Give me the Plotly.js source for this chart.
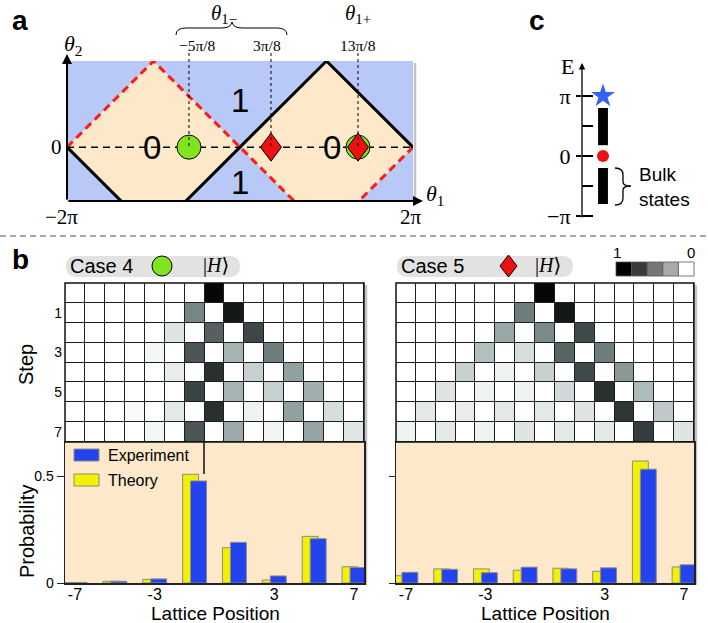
<!DOCTYPE html>
<html><head><meta charset="utf-8">
<script src="https://cdn.plot.ly/plotly-3.0.1.min.js"></script>
<style>html,body{margin:0;padding:0;background:#fff}#chart{width:708px;height:623px}</style>
</head><body><div id="chart"></div>
<script>
// ================= DATA =================
// panel b : lattice positions with bars, probabilities at final step
const latticePositions = [-7, -5, -3, -1, 1, 3, 5, 7];
const case4Theory     = [0.002, 0.008, 0.017, 0.508, 0.165, 0.014, 0.218, 0.076];
const case4Experiment = [0.002, 0.008, 0.019, 0.477, 0.190, 0.033, 0.207, 0.072];
const case5Theory     = [0.034, 0.066, 0.066, 0.060, 0.069, 0.055, 0.570, 0.075];
const case5Experiment = [0.050, 0.064, 0.048, 0.074, 0.066, 0.071, 0.532, 0.085];
const xTickVals = [-7, -3, 3, 7];
const xTickText = ['-7', '-3', '3', '7'];

// heat maps: rows = steps 0..7, columns = positions -7..7
const heatColumns = [-7,-6,-5,-4,-3,-2,-1,0,1,2,3,4,5,6,7];
const steps = [0,1,2,3,4,5,6,7];
const stepTickVals = [1, 3, 5, 7];
const case4Heat = [
  [0,0,0,0,0,0,0,0.98,0,0,0,0,0,0,0],
  [0,0,0,0,0,0,0.57,0,0.93,0,0,0,0,0,0],
  [0,0,0,0,0,0.14,0,0.70,0,0.79,0,0,0,0,0],
  [0,0,0,0,0.05,0,0.74,0,0.37,0,0.60,0,0,0,0],
  [0,0,0,0,0,0.10,0,0.86,0,0.24,0,0.46,0,0,0],
  [0,0,0,0,0,0,0.80,0,0.37,0,0.24,0,0.40,0,0],
  [0,0,0,0.03,0,0.12,0,0.86,0,0.07,0,0.46,0,0.18,0],
  [0,0,0,0,0.05,0,0.74,0,0.42,0,0.06,0,0.44,0,0.13]
];
const case5Heat = [
  [0,0,0,0,0,0,0,0.98,0,0,0,0,0,0,0],
  [0,0,0,0,0,0,0.60,0,0.93,0,0,0,0,0,0],
  [0,0,0,0,0,0.43,0,0.55,0,0.78,0,0,0,0,0],
  [0,0,0,0,0.32,0,0.18,0,0.69,0,0.60,0,0,0,0],
  [0,0,0,0.24,0,0.07,0,0.24,0,0.78,0,0.49,0,0,0],
  [0,0,0.14,0,0.07,0,0.07,0,0.20,0,0.86,0,0.34,0,0],
  [0,0.12,0,0.10,0,0.12,0,0.12,0,0.14,0,0.84,0,0.28,0],
  [0.07,0,0.12,0,0.07,0,0.14,0,0.12,0,0.12,0,0.82,0,0.14]
];
const legendScaleColors = ['#000000','#3a3a3a','#777777','#aaaaaa','#ffffff'];

// panel a : phase diagram (angles in units of pi)
const theta1Zigzag = [-2, -1, 0, 1, 2];
const redBoundaryTheta2 = [0, 1, 0, -1, 0];
const blackBoundaryTheta2 = [0, -1, 0, 1, 0];
const trivialCentersTheta1 = [-1, 1];
const circleTheta1 = [-0.59, 1.364];
const diamondTheta1 = [0.358, 1.364];
const markerLabelTheta1 = [-0.59, 0.358, 1.364];
const markerLabels = ['\u22125\u03c0/8', '3\u03c0/8', '13\u03c0/8'];

// panel c : quasi-energy spectrum (units of pi)
const edgeStarEnergy = [1];
const edgeDotEnergy = [0];
const bulkBands = [[0.18, 0.80], [-0.80, -0.20]];

// ================= HELPERS =================
const W = 708, H = 623;
const px = v => v / W;
const py = v => 1 - v / H;
const SANS = 'Liberation Sans, Arial, Helvetica, sans-serif';
const SERIF = 'Liberation Serif, DejaVu Serif, Times New Roman, serif';
const ann = (x, y, text, size, extra) => Object.assign({
  xref: 'paper', yref: 'paper', x: px(x), y: py(y), text: text, showarrow: false,
  xanchor: 'center', yanchor: 'middle', font: {size: size, family: SANS, color: '#000'}
}, extra || {});
const P = (x, y) => px(x).toFixed(5) + ',' + py(y).toFixed(5);

const YELLOW = '#f2f200', BLUE = '#2343ee', ORANGE = '#fde8ca', LIGHTBLUE = '#b9c9f7';
const heatScale = [[0,'#ffffff'],[0.2,'#d0d9d9'],[0.4,'#a0aeae'],[0.6,'#6e7e7e'],[0.8,'#3a4444'],[1,'#000000']];

// ================= TRACES =================
const traces = [];
// heatmaps
traces.push({type:'heatmap', x: heatColumns, y: steps, z: case4Heat, colorscale: heatScale, zmin:0, zmax:1,
  showscale:false, xgap:1, ygap:1, xaxis:'x', yaxis:'y', hoverinfo:'skip'});
traces.push({type:'heatmap', x: heatColumns, y: steps, z: case5Heat, colorscale: heatScale, zmin:0, zmax:1,
  showscale:false, xgap:1, ygap:1, xaxis:'x3', yaxis:'y3', hoverinfo:'skip'});
// bars
const barLine = {color:'#8a8a8a', width:1};
function barPair(theory, exper, xa, ya){
  traces.push({type:'bar', x: latticePositions, y: theory, width:0.8, offset:-0.6,
    marker:{color:YELLOW, line:barLine}, xaxis:xa, yaxis:ya, hoverinfo:'skip'});
  traces.push({type:'bar', x: latticePositions, y: exper, width:0.8, offset:-0.2,
    marker:{color:BLUE, line:barLine}, xaxis:xa, yaxis:ya, hoverinfo:'skip'});
}
barPair(case4Theory, case4Experiment, 'x2', 'y2');
barPair(case5Theory, case5Experiment, 'x4', 'y4');

// panel a: trivial (0) diamonds
trivialCentersTheta1.forEach(c => {
  traces.push({type:'scatter', mode:'lines', x:[c-1, c, c+1, c, c-1], y:[0, 1, 0, -1, 0],
    fill:'toself', fillcolor:ORANGE, line:{width:0}, xaxis:'x5', yaxis:'y5', hoverinfo:'skip'});
});
traces.push({type:'scatter', mode:'lines', x: theta1Zigzag, y: redBoundaryTheta2,
  line:{color:'#ff1a1a', width:3, dash:'8px,5px'}, xaxis:'x5', yaxis:'y5', hoverinfo:'skip'});
traces.push({type:'scatter', mode:'lines', x: theta1Zigzag, y: blackBoundaryTheta2,
  line:{color:'#000', width:3}, xaxis:'x5', yaxis:'y5', hoverinfo:'skip'});
traces.push({type:'scatter', mode:'lines', x:[theta1Zigzag[0], theta1Zigzag[theta1Zigzag.length-1]], y:[0,0],
  line:{color:'#000', width:1.5, dash:'7px,5px'}, xaxis:'x5', yaxis:'y5', hoverinfo:'skip'});
traces.push({type:'scatter', mode:'markers', x: circleTheta1, y: circleTheta1.map(() => 0),
  marker:{symbol:'circle', size:24, color:'#80e51f', line:{color:'#000', width:1}},
  xaxis:'x5', yaxis:'y5', hoverinfo:'skip', cliponaxis:false});
const dHalfW = 10.5 / 86.5, dHalfH = 14 / 86.15;
diamondTheta1.forEach(t => {
  traces.push({type:'scatter', mode:'lines', x:[t-dHalfW, t, t+dHalfW, t, t-dHalfW], y:[0, dHalfH, 0, -dHalfH, 0],
    fill:'toself', fillcolor:'#ee1111', line:{color:'#000', width:1}, xaxis:'x5', yaxis:'y5', hoverinfo:'skip'});
});

// panel c
traces.push({type:'bar', x: bulkBands.map(() => 0), base: bulkBands.map(b => b[0]), y: bulkBands.map(b => b[1]-b[0]),
  width:0.47, marker:{color:'#000'}, xaxis:'x6', yaxis:'y6', hoverinfo:'skip'});
traces.push({type:'scatter', mode:'markers', x: edgeStarEnergy.map(() => 0), y: edgeStarEnergy,
  marker:{symbol:'star', size:18, color:'#3462f5'}, xaxis:'x6', yaxis:'y6', hoverinfo:'skip', cliponaxis:false});
traces.push({type:'scatter', mode:'markers', x: edgeDotEnergy.map(() => 0), y: edgeDotEnergy,
  marker:{symbol:'circle', size:12, color:'#ee1111'}, xaxis:'x6', yaxis:'y6', hoverinfo:'skip'});
traces.push({type:'scatter', mode:'markers', x:[0], y:[0], marker:{opacity:0}, xaxis:'x6', yaxis:'y7', hoverinfo:'skip'});

// ================= LAYOUT =================
const noAxis = {showgrid:false, zeroline:false, showline:false, ticks:'', showticklabels:false};
const bLeft = [px(65), px(364)], bRight = [px(396), px(694)];
const heatY = [py(442), py(283)], barY = [py(583), py(442)];
const layout = {
  width: W, height: H, margin:{l:0, r:0, t:0, b:0},
  paper_bgcolor:'#ffffff', plot_bgcolor:'rgba(0,0,0,0)', showlegend:false, barmode:'overlay',
  font:{family:SANS, color:'#000'},
  xaxis: Object.assign({}, noAxis, {domain:bLeft, range:[-7.5,7.5], anchor:'y'}),
  yaxis: Object.assign({}, noAxis, {domain:heatY, range:[7.5,-0.5], anchor:'x', showticklabels:true,
    tickvals:stepTickVals, ticktext:stepTickVals.map(String), tickfont:{size:14}, ticklabelstandoff:2}),
  xaxis3: Object.assign({}, noAxis, {domain:bRight, range:[-7.5,7.5], anchor:'y3'}),
  yaxis3: Object.assign({}, noAxis, {domain:heatY, range:[7.5,-0.5], anchor:'x3'}),
  xaxis2: {domain:bLeft, range:[-7.5,7.5], anchor:'y2', tickvals:xTickVals, ticktext:xTickText, ticks:'',
    tickfont:{size:16}, ticklabelstandoff:-4, showline:true, mirror:true, linecolor:'#222', linewidth:1.5, showgrid:false, zeroline:false},
  yaxis2: {domain:barY, range:[0,0.659], anchor:'x2', tickvals:[0,0.5], ticktext:['0','0.5'], ticks:'outside',
    ticklen:7, tickcolor:'#222', tickfont:{size:14}, showline:true, mirror:true, linecolor:'#222', linewidth:1.5,
    showgrid:false, zeroline:false},
  xaxis4: {domain:bRight, range:[-7.5,7.5], anchor:'y4', tickvals:xTickVals, ticktext:xTickText, ticks:'',
    tickfont:{size:16}, ticklabelstandoff:-4, showline:true, mirror:true, linecolor:'#222', linewidth:1.5, showgrid:false, zeroline:false},
  yaxis4: {domain:barY, range:[0,0.659], anchor:'x4', tickvals:[0,0.5], ticks:'outside', ticklen:6, tickcolor:'#222',
    showticklabels:false, showline:true, mirror:true, linecolor:'#222', linewidth:1.5, showgrid:false, zeroline:false},
  xaxis5: Object.assign({}, noAxis, {domain:[px(67), px(413)], range:[-2,2], anchor:'y5'}),
  yaxis5: Object.assign({}, noAxis, {domain:[py(201), py(61)], range:[-0.625,1], anchor:'x5'}),
  xaxis6: Object.assign({}, noAxis, {domain:[px(582), px(705)], range:[-1, 4.857], anchor:'y6'}),
  yaxis6: {domain:[py(218), py(72)], range:[-1.033, 1.4], anchor:'x6', tickvals:[-1,0,1],
    ticktext:['\u2212\u03c0','0','\u03c0'], ticks:'outside', ticklen:5, tickwidth:1.3, tickcolor:'#000',
    tickfont:{size:22, family:SERIF}, showline:false, showgrid:false, zeroline:false, ticklabelstandoff:1},
  yaxis7: {overlaying:'y6', anchor:'x6', range:[-1.033, 1.4], tickvals:[-1,-0.5,0,0.5,1], ticks:'inside',
    ticklen:11, tickwidth:1.3, tickcolor:'#000', showticklabels:false, showline:false, showgrid:false, zeroline:false},
  shapes: [], annotations: []
};
const S = layout.shapes, A = layout.annotations;

// backgrounds
S.push({type:'rect', xref:'x domain', yref:'y domain', x0:0, x1:1, y0:0, y1:1, fillcolor:'#1e1e1e', line:{width:0}, layer:'below'});
S.push({type:'rect', xref:'x3 domain', yref:'y3 domain', x0:0, x1:1, y0:0, y1:1, fillcolor:'#1e1e1e', line:{width:0}, layer:'below'});
S.push({type:'rect', xref:'x2 domain', yref:'y2 domain', x0:0, x1:1, y0:0, y1:1, fillcolor:ORANGE, line:{width:0}, layer:'below'});
S.push({type:'rect', xref:'x4 domain', yref:'y4 domain', x0:0, x1:1, y0:0, y1:1, fillcolor:ORANGE, line:{width:0}, layer:'below'});
S.push({type:'rect', xref:'x5 domain', yref:'y5 domain', x0:0, x1:1, y0:0, y1:1, fillcolor:LIGHTBLUE, line:{width:0}, layer:'below'});
// soft shadows
[[364,285,583],[694,285,583]].forEach(s => S.push({type:'line', xref:'paper', yref:'paper', x0:px(s[0]+2), x1:px(s[0]+2), y0:py(s[1]), y1:py(s[2]+2), line:{color:'#c4c4c4', width:2.5}, layer:'below'}));
S.push({type:'line', xref:'paper', yref:'paper', x0:px(415), x1:px(415), y0:py(63), y1:py(200), line:{color:'#c4c4c4', width:2.5}, layer:'below'});
// heat map borders
S.push({type:'rect', xref:'x domain', yref:'y domain', x0:0, x1:1, y0:0, y1:1, line:{color:'#111', width:1.5}});
S.push({type:'rect', xref:'x3 domain', yref:'y3 domain', x0:0, x1:1, y0:0, y1:1, line:{color:'#111', width:1.5}});
// vertical line in left bar chart
S.push({type:'line', xref:'paper', yref:'paper', x0:px(204), x1:px(204), y0:py(442), y1:py(474), line:{color:'#111', width:1.5}});
// separator
S.push({type:'line', xref:'paper', yref:'paper', x0:0, x1:1, y0:py(236), y1:py(236), line:{color:'#a8a8a8', width:2, dash:'6px,4px'}});

// case pills
function pill(x0, x1, y0, y1){
  const r = (y1 - y0) / 2;
  return {type:'path', xref:'paper', yref:'paper', fillcolor:'#e2e2e2', line:{width:0}, layer:'below',
    path:'M'+P(x0+r,y0)+' L'+P(x1-r,y0)+' Q'+P(x1,y0)+' '+P(x1,y0+r)+' Q'+P(x1,y1)+' '+P(x1-r,y1)+
         ' L'+P(x0+r,y1)+' Q'+P(x0,y1)+' '+P(x0,y0+r)+' Q'+P(x0,y0)+' '+P(x0+r,y0)+' Z'};
}
S.push(pill(66, 240, 256, 277));
S.push(pill(397, 573, 256, 277));
S.push({type:'circle', xref:'paper', yref:'paper', x0:px(152), x1:px(172), y0:py(276), y1:py(256), fillcolor:'#80e51f', line:{color:'#000', width:1}});
S.push({type:'path', xref:'paper', yref:'paper', fillcolor:'#ee1111', line:{color:'#000', width:1},
  path:'M'+P(500,266)+' L'+P(508.5,255)+' L'+P(517,266)+' L'+P(508.5,277)+' Z'});

// grey-scale legend
legendScaleColors.forEach((c, i) => {
  const w = 78 / legendScaleColors.length;
  S.push({type:'rect', xref:'paper', yref:'paper', x0:px(616+i*w), x1:px(616+(i+1)*w), y0:py(276), y1:py(262),
    fillcolor:c, line:{color:'#555', width:0.8}});
});

// bar legend swatches
S.push({type:'rect', xref:'paper', yref:'paper', x0:px(74), x1:px(99), y0:py(461), y1:py(449), fillcolor:BLUE, line:{color:'#8a8a8a', width:1}});
S.push({type:'rect', xref:'paper', yref:'paper', x0:px(74), x1:px(99), y0:py(486), y1:py(474), fillcolor:YELLOW, line:{color:'#8a8a8a', width:1}});

// braces
S.push({type:'path', xref:'paper', yref:'paper', line:{color:'#000', width:1},
  path:'M'+P(176,35)+' Q'+P(176,28)+' '+P(186,28)+' L'+P(222,28)+' Q'+P(231,28)+' '+P(232,22)+
       ' Q'+P(233,28)+' '+P(242,28)+' L'+P(277,28)+' Q'+P(287,28)+' '+P(287,35)});
S.push({type:'path', xref:'paper', yref:'paper', line:{color:'#000', width:1.3},
  path:'M'+P(615,168)+' Q'+P(623,168)+' '+P(623,175)+' L'+P(623,182)+' Q'+P(623,186)+' '+P(631,186)+
       ' Q'+P(623,186)+' '+P(623,190)+' L'+P(623,198)+' Q'+P(623,205)+' '+P(615,205)});

// dotted lines from labels to markers (panel a)
markerLabelTheta1.forEach(t => S.push({type:'line', xref:'x5', yref:'paper', x0:t, x1:t, y0:py(53), y1:py(147),
  line:{color:'#000', width:1, dash:'dot'}}));

// ---------- annotations ----------
const arrow = (x, y, ax, ay, w) => ({xref:'paper', yref:'paper', x:px(x), y:py(y), ax:ax, ay:ay, text:'',
  showarrow:true, arrowhead:2, arrowsize:1, arrowwidth:w, arrowcolor:'#000'});
A.push(arrow(67, 54, 0, 147, 2));
A.push(arrow(423, 201, -356, 0, 2));
A.push(arrow(582, 63, 0, 156, 1.3));

// panel letters
A.push(ann(20, 21, '<b>a</b>', 28));
A.push(ann(20, 259, '<b>b</b>', 28));
A.push(ann(537, 21, '<b>c</b>', 28));

// panel a texts
A.push(ann(73, 45, '<i>\u03b8</i><sub>2</sub>', 22, {font:{size:22, family:SERIF, color:'#000'}}));
A.push(ann(57, 147, '0', 21, {font:{size:21, family:SERIF, color:'#000'}}));
A.push(ann(61, 217, '\u22122\u03c0', 21, {font:{size:21, family:SERIF, color:'#000'}}));
A.push(ann(411, 217, '2\u03c0', 21, {font:{size:21, family:SERIF, color:'#000'}}));
A.push(ann(435, 195, '<i>\u03b8</i><sub>1</sub>', 22, {font:{size:22, family:SERIF, color:'#000'}}));
A.push(ann(224, 14, '<i>\u03b8</i><sub>1\u2212</sub>', 21, {font:{size:21, family:SERIF, color:'#000'}}));
A.push(ann(358, 14, '<i>\u03b8</i><sub>1+</sub>', 21, {font:{size:21, family:SERIF, color:'#000'}}));
[198, 267, 358].forEach((x, i) => A.push(ann(x, 45, markerLabels[i], 15.5, {font:{size:15.5, family:SERIF, color:'#000'}})));
A.push(ann(152, 147, '0', 33));
A.push(ann(332, 147, '0', 33));
A.push(ann(240, 100, '1', 33));
A.push(ann(240, 183, '1', 33));

// panel c texts
A.push(ann(567, 67, 'E', 22, {font:{size:22, family:SERIF, color:'#000'}}));
A.push(ann(637, 187, 'Bulk<br>states', 19, {xanchor:'left', align:'left'}));

// panel b texts
A.push(ann(101, 266, 'Case 4', 20));
A.push(ann(216, 266, '|<i>H</i>\u27e9', 20, {font:{size:20, family:SERIF, color:'#000'}}));
A.push(ann(432, 266, 'Case 5', 20));
A.push(ann(548, 266, '|<i>H</i>\u27e9', 20, {font:{size:20, family:SERIF, color:'#000'}}));
A.push(ann(617, 253, '1', 15));
A.push(ann(691, 253, '0', 15));
A.push(ann(26, 365, 'Step', 20, {textangle:-90}));
A.push(ann(27, 532, 'Probability', 20, {textangle:-90}));
A.push(ann(215, 613, 'Lattice Position', 19, {borderpad:0}));
A.push(ann(545, 613, 'Lattice Position', 19, {borderpad:0}));
A.push(ann(106, 455, 'Experiment', 16, {xanchor:'left'}));
A.push(ann(106, 480, 'Theory', 16, {xanchor:'left'}));

Plotly.newPlot('chart', traces, layout, {staticPlot:true, displayModeBar:false});
</script>
</body></html>
